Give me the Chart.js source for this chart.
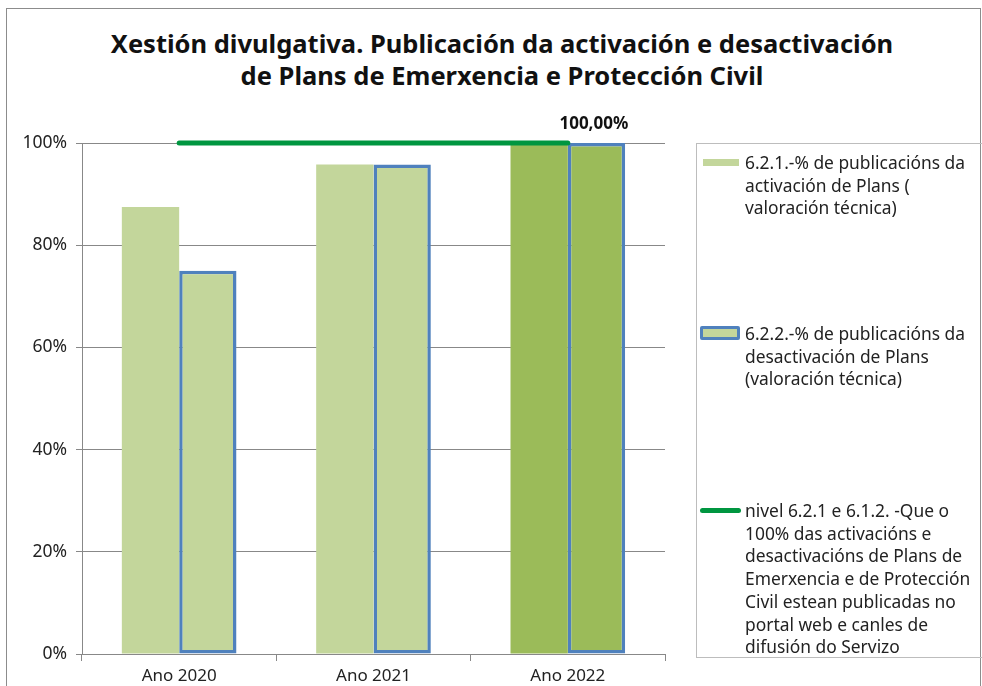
<!DOCTYPE html>
<html>
<head>
<meta charset="utf-8">
<script src="https://cdn.jsdelivr.net/npm/chart.js@4/dist/chart.umd.min.js"></script>
<style>
  html, body { margin: 0; padding: 0; background: #fff; }
  body { width: 982px; height: 686px; position: relative; overflow: hidden; font-family: "Noto Sans", sans-serif; }
  #frame { position: absolute; left: 6px; top: 8px; width: 975px; height: 700px; border: 1.5px solid #8c8c8c; box-sizing: border-box; }
  #title { position: absolute; left: 0; top: 27px; width: 1004px; text-align: center; font-weight: bold; font-size: 25.5px; line-height: 32px; color: #111; }
  canvas { position: absolute; left: 0; top: 0; }
  #legend { position: absolute; left: 696px; top: 143px; width: 320px; height: 515px; border: 1px solid #bdbdbd; box-sizing: border-box; }
  .item { position: absolute; left: 48px; font-size: 17.4px; line-height: 22.7px; color: #222; white-space: nowrap; }
</style>
</head>
<body>
<div id="frame"></div>
<div id="title">Xestión divulgativa. Publicación da activación e desactivación<br>de Plans de Emerxencia e Protección Civil</div>
<canvas id="chart" width="982" height="686"></canvas>
<div id="legend"></div>
<script>
// categories and values (percent)
const categories = ['Ano 2020', 'Ano 2021', 'Ano 2022'];
const activacion = [87.5, 95.8, 100];
const desactivacion = [75, 95.8, 100];
const nivel = [100, 100, 100];
const yTicks = [0, 20, 40, 60, 80, 100];

const labelActivacion = ['6.2.1.-% de publicacións da', 'activación de Plans (', 'valoración técnica)'];
const labelDesactivacion = ['6.2.2.-% de publicacións da', 'desactivación de Plans', '(valoración técnica)'];
const labelNivel = ['nivel 6.2.1 e 6.1.2. -Que o', '100% das activacións e', 'desactivacións de Plans de',
  'Emerxencia e de Protección', 'Civil estean publicadas no', 'portal web e canles de', 'difusión do Servizo'];

const lightGreen = '#C3D69B';
const darkGreen = '#9BBB59';
const blue = '#4F81BD';
const lineGreen = '#009640';
const barColors = [lightGreen, lightGreen, darkGreen];

// draws the "100,00%" label next to the last point of the level line
const pointLabel = {
  id: 'pointLabel',
  afterDatasetsDraw(chart) {
    const pt = chart.getDatasetMeta(2).data[2];
    const ctx = chart.ctx;
    ctx.save();
    ctx.font = 'bold 17px "Noto Sans"';
    ctx.fillStyle = '#111';
    ctx.textAlign = 'center';
    ctx.textBaseline = 'middle';
    ctx.fillText(nivel[2].toFixed(2).replace('.', ',') + '%', pt.x + 26, pt.y - 19);
    ctx.restore();
  }
};

const ctx = document.getElementById('chart').getContext('2d');
const chart = new Chart(ctx, {
  type: 'bar',
  data: {
    labels: categories,
    datasets: [{
      label: labelActivacion.join(' '),
      data: activacion,
      backgroundColor: barColors,
      borderWidth: 0,
      categoryPercentage: 0.59,
      barPercentage: 1,
      order: 1
    }, {
      label: labelDesactivacion.join(' '),
      data: desactivacion,
      backgroundColor: barColors,
      borderColor: blue,
      borderWidth: 3.5,
      borderSkipped: false,
      categoryPercentage: 0.59,
      barPercentage: 1,
      order: 1
    }, {
      type: 'line',
      label: labelNivel.join(' '),
      data: nivel,
      borderColor: lineGreen,
      borderWidth: 5,
      pointRadius: 0,
      borderCapStyle: 'round',
      clip: false,
      order: 0
    }]
  },
  options: {
    responsive: false,
    animation: false,
    layout: { padding: { top: 143, right: 317, bottom: 0, left: 0 } },
    scales: {
      x: {
        afterFit: s => { s.height = 32; },
        grid: { display: true, drawOnChartArea: false, drawTicks: true, tickLength: 7, color: '#888' },
        border: { color: '#888', width: 1 },
        ticks: { color: '#222', font: { family: 'Noto Sans', size: 17 }, padding: 5 }
      },
      y: {
        min: 0,
        max: 100,
        afterFit: s => { s.width = 82; },
        afterBuildTicks: s => { s.ticks = yTicks.map(v => ({ value: v })); },
        grid: { color: '#888', tickLength: 6 },
        border: { color: '#888', width: 1 },
        ticks: {
          color: '#222',
          padding: 9,
          font: { family: 'Noto Sans', size: 17.5 },
          callback: v => v + '%'
        }
      }
    },
    plugins: {
      legend: { display: false },
      tooltip: { enabled: false }
    }
  },
  plugins: [pointLabel]
});

// legend, built from the dataset labels
const legend = document.getElementById('legend');
const items = [
  { lines: labelActivacion, top: 7, mark: 'left:-42px;top:8px;width:36px;height:7px;background:' + lightGreen },
  { lines: labelDesactivacion, top: 178, mark: 'left:-45px;top:4px;width:40px;height:14px;box-sizing:border-box;border:3px solid ' + blue + ';border-radius:2px;background:' + lightGreen },
  { lines: labelNivel, top: 355, mark: 'left:-45px;top:9px;width:41px;height:5px;border-radius:3px;background:' + lineGreen }
];
items.forEach(it => {
  const d = document.createElement('div');
  d.className = 'item';
  d.style.top = it.top + 'px';
  d.innerHTML = it.lines.join('<br>');
  const m = document.createElement('span');
  m.style.cssText = 'position:absolute;' + it.mark;
  d.appendChild(m);
  legend.appendChild(d);
});
</script>
</body>
</html>
